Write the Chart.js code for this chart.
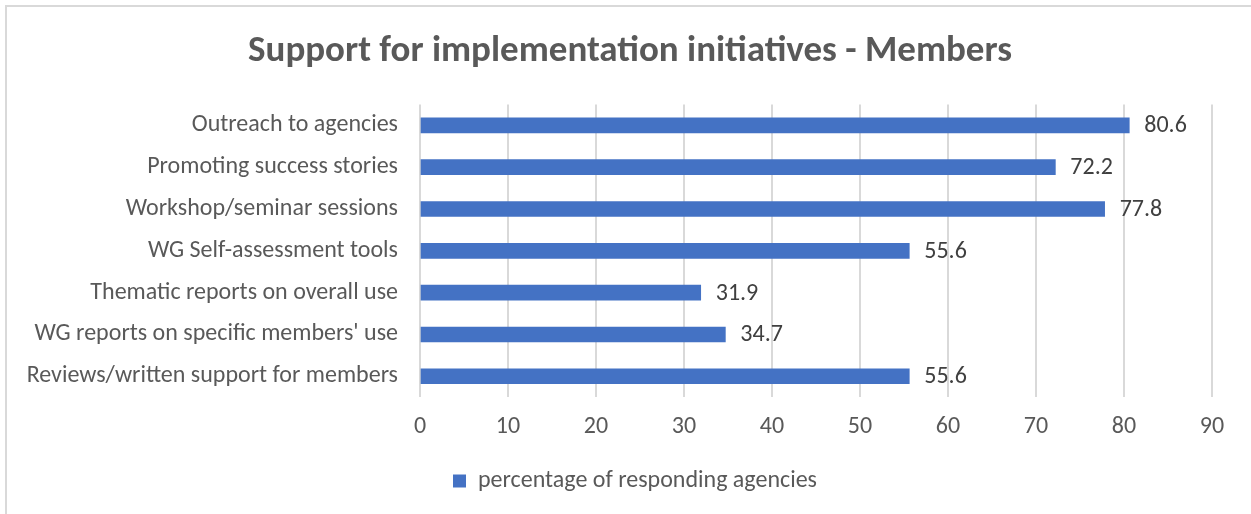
<!DOCTYPE html>
<html>
<head>
<meta charset="utf-8">
<script src="https://cdn.jsdelivr.net/npm/chart.js@4"></script>
<style>
  html, body { margin: 0; padding: 0; background: #fff; overflow: hidden; }
  #wrap { position: relative; width: 1251px; height: 514px; }
  #frame { position: absolute; left: 5px; top: 5px; width: 1300px; height: 600px; border: 2px solid #d9d9d9; box-sizing: border-box; }
  canvas { position: absolute; left: 0; top: 0; }
</style>
</head>
<body>
<div id="wrap">
  <div id="frame"></div>
  <canvas id="chart" width="1251" height="514"></canvas>
</div>
<script>
const categories = [
  'Outreach to agencies',
  'Promoting success stories',
  'Workshop/seminar sessions',
  'WG Self-assessment tools',
  'Thematic reports on overall use',
  "WG reports on specific members' use",
  'Reviews/written support for members'
];
const percentages = [80.6, 72.2, 77.8, 55.6, 31.9, 34.7, 55.6];
const seriesLabel = 'percentage of responding agencies';
const xMax = 90;
const xStep = 10;

const FONT = "Carlito, 'Open Sans', sans-serif";

/* value labels to the right of each bar */
const valueLabels = {
  id: 'valueLabels',
  afterDatasetsDraw(chart) {
    const ctx = chart.ctx;
    const meta = chart.getDatasetMeta(0);
    ctx.save();
    ctx.font = '24px ' + FONT;
    ctx.fillStyle = '#404040';
    ctx.textAlign = 'left';
    ctx.textBaseline = 'middle';
    meta.data.forEach((bar, i) => {
      ctx.fillText(percentages[i].toFixed(1), bar.x + 15, bar.y + 1);
    });
    ctx.restore();
  }
};

/* centre title and legend on the framed box rather than the canvas minus right padding */
const centreHeader = {
  id: 'centreHeader',
  afterLayout(chart) {
    if (chart.titleBlock) chart.titleBlock.left = 48;
    if (chart.legend) chart.legend.left = 58;
  }
};

new Chart(document.getElementById('chart'), {
  type: 'bar',
  data: {
    labels: categories,
    datasets: [{
      label: seriesLabel,
      data: percentages,
      backgroundColor: '#4472C4',
      barThickness: 15
    }]
  },
  options: {
    indexAxis: 'y',
    responsive: false,
    animation: false,
    layout: { padding: { top: 30, right: 39, bottom: 11, left: 0 } },
    plugins: {
      title: {
        display: true,
        text: 'Support for implementation initiatives - Members',
        color: '#595959',
        font: { family: FONT, size: 37, weight: 'bold' },
        padding: { top: 0, bottom: 30 }
      },
      legend: {
        position: 'bottom',
        labels: {
          color: '#595959',
          font: { family: FONT, size: 24 },
          boxWidth: 13,
          boxHeight: 13,
          padding: 10
        }
      },
      tooltip: { enabled: false }
    },
    scales: {
      x: {
        min: 0,
        max: xMax,
        afterFit(scale) { scale.height += 3; },
        ticks: { stepSize: xStep, color: '#595959', font: { family: FONT, size: 24 }, padding: 15 },
        grid: { color: '#d9d9d9', lineWidth: 2, drawTicks: false },
        border: { display: false }
      },
      y: {
        afterFit(scale) { scale.width = 420; },
        ticks: { color: '#595959', font: { family: FONT, size: 24 }, padding: 22 },
        grid: { display: false, drawTicks: false },
        border: { display: false }
      }
    }
  },
  plugins: [valueLabels, centreHeader]
});
</script>
</body>
</html>
